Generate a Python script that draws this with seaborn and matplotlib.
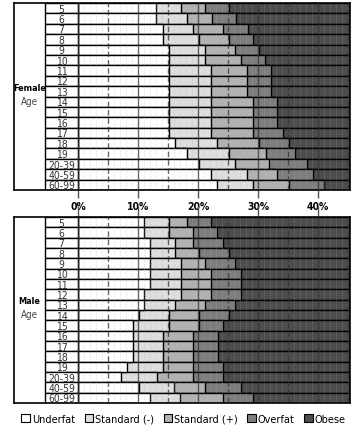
import matplotlib.pyplot as plt
import matplotlib as mpl
import seaborn as sns
import pandas as pd
from matplotlib.patches import Patch

mpl.rcParams['font.family'] = ['DejaVu Sans']
mpl.rcParams['font.stretch'] = 'condensed'

# 나이 구간
ages = ['5', '6', '7', '8', '9', '10', '11', '12', '13', '14', '15', '16', '17',
        '18', '19', '20-39', '40-59', '60-99']

# 여성: 각 구간의 끝 (체지방 %)
f_underfat = [13.0, 13.0, 14.1, 14.1, 15.1, 15.1, 15.1, 15.1, 15.1, 15.1, 15.1, 15.1, 15.1, 16.2, 18.1, 20.1, 22.1, 23.1]
f_std_minus = [17.2, 18.1, 19.2, 20.2, 21.2, 21.2, 22.1, 22.1, 22.1, 22.1, 22.1, 22.1, 22.1, 23.1, 25.2, 26.2, 28.1, 29.1]
f_std_plus = [21.2, 22.3, 24.1, 25.2, 26.2, 27.1, 28.2, 28.2, 28.2, 29.1, 29.1, 29.1, 29.1, 30.2, 31.3, 31.8, 33.1, 35.2]
f_overfat = [25.2, 26.3, 28.3, 29.2, 30.2, 31.2, 32.2, 32.2, 32.2, 33.2, 33.2, 33.2, 34.2, 35.1, 36.2, 38.1, 39.2, 41.0]

# 남성
m_underfat = [11.0, 11.0, 12.0, 12.0, 12.0, 12.0, 12.0, 11.0, 11.0, 10.1, 9.1, 9.1, 9.1, 9.1, 8.1, 7.1, 10.1, 12.0]
m_std_minus = [15.1, 15.2, 16.1, 16.2, 17.2, 17.2, 17.2, 17.2, 16.2, 15.2, 15.1, 14.2, 14.2, 14.2, 14.2, 13.1, 16.0, 17.0]
m_std_plus = [18.1, 19.1, 19.1, 20.2, 21.2, 22.1, 22.1, 22.1, 21.2, 20.2, 20.2, 19.1, 19.1, 19.1, 19.1, 19.1, 21.2, 24.1]
m_overfat = [22.1, 23.2, 24.1, 25.2, 26.2, 27.1, 27.1, 27.1, 26.2, 25.2, 24.1, 23.3, 23.3, 23.3, 24.1, 24.1, 27.1, 29.2]

categories = ['Underfat', 'Standard (-)', 'Standard (+)', 'Overfat', 'Obese']
colors = ['#ffffff', '#dedede', '#b2b2b2', '#7e7e7e', '#4d4d4d']

XMIN = -10.67
XMAX = 45.33
LABEL_W = 5.5

fig = plt.figure(figsize=(3.53, 4.31), dpi=100)
ax_f = fig.add_axes([14/353, 1-191/431, 336/353, 187/431])
ax_m = fig.add_axes([14/353, 1-404/431, 336/353, 186/431])


def draw_panel(ax, title, ends):
    df = pd.DataFrame({'age': ages})
    # 뒤에서부터 겹쳐 그리기 (누적 막대처럼 보이게)
    layers = [[XMAX] * len(ages)] + ends[::-1]
    cols = colors[::-1]
    for vals, c in zip(layers, cols):
        df['x'] = vals
        sns.barplot(data=df, y='age', x='x', color=c, width=1, edgecolor='black',
                    linewidth=1, saturation=1, orient='h', ax=ax, zorder=2)
    # 나이 라벨 칸
    ax.barh(range(len(ages)), LABEL_W, left=-LABEL_W, height=1, color='white',
            edgecolor='black', linewidth=1, zorder=2)
    for i, a in enumerate(ages):
        ax.text(-LABEL_W / 2, i + 0.05, a, ha='center', va='center', fontsize=7.5,
                color='#333333', zorder=5)
    ax.text((XMIN - LABEL_W) / 2, 7.6, title, ha='center', va='center', fontsize=6.5,
            fontweight='bold', zorder=5)
    ax.text((XMIN - LABEL_W) / 2, 8.9, 'Age', ha='center', va='center', fontsize=7,
            color='#444444', zorder=5)
    # 격자선 (막대 위)
    for v in range(0, 46):
        if v % 10 == 0:
            ax.axvline(v, color='#333333', lw=1.0, alpha=0.75, zorder=4)
        elif v % 5 == 0:
            ax.axvline(v, color='#333333', lw=1.0, ls=(0, (4, 2)), alpha=0.75, zorder=4)
        else:
            ax.axvline(v, color='#aaaaaa', lw=0.5, ls=(0, (1, 1.5)), alpha=0.6, zorder=3)
    ax.set_xlim(XMIN, XMAX)
    ax.set_ylim(len(ages) - 0.5, -0.5)
    ax.set_xlabel('')
    ax.set_ylabel('')
    ax.set_yticks([])
    for s in ax.spines.values():
        s.set_linewidth(1.2)
        s.set_color('black')


draw_panel(ax_f, 'Female', [f_underfat, f_std_minus, f_std_plus, f_overfat])
draw_panel(ax_m, 'Male', [m_underfat, m_std_minus, m_std_plus, m_overfat])

ticks = [0, 10, 20, 30, 40]
ax_f.set_xticks(ticks)
ax_f.set_xticklabels([f'{t}%' for t in ticks], fontweight='bold', fontsize=7.5)
ax_f.tick_params(axis='x', length=6, width=1, color='#555555', pad=2)
ax_m.set_xticks(ticks)
ax_m.xaxis.tick_top()
ax_m.tick_params(axis='x', length=8, width=1, color='#555555', labeltop=False)

handles = [Patch(facecolor=c, edgecolor='black', linewidth=0.8) for c in colors]
fig.legend(handles, categories, loc='center', bbox_to_anchor=(0.52, 1 - 420/431), ncol=5,
           frameon=False, fontsize=7.8, handlelength=0.8, handleheight=0.8,
           handletextpad=0.15, columnspacing=0.9, borderaxespad=0)

plt.savefig('out.png', dpi=100)
